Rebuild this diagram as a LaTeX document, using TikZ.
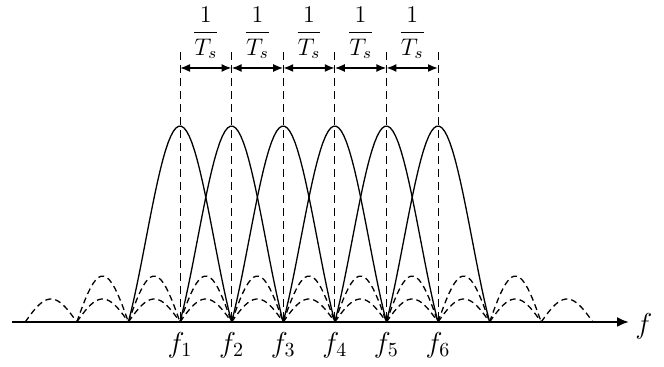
\documentclass[tikz,border=0pt]{standalone}
\usepackage{tikz}
\usetikzlibrary{arrows.meta, positioning}
\usepackage{amsmath, amssymb}
\tikzset{
  lobe/.style = {draw, line width=0.65pt},
  side/.style = {draw, line width=0.65pt, dash pattern=on 3pt off 2pt},
  guide/.style = {draw, line width=0.5pt, dash pattern=on 4pt off 2.5pt},
  spacing/.style = {draw, line width=0.8pt, {Latex[length=5pt, width=4pt]}-{Latex[length=5pt, width=4pt]}},
  axis/.style = {draw, line width=1.1pt, -{Latex[length=6pt, width=5pt]}},
  freq/.style = {font=\Large, inner sep=1pt},
  declare function = {sinc(\u) = sin(180*\u)/(pi*\u);},
}
\newcommand{\df}{51.6}
\newcommand{\hgt}{196}
% main lobe of one subcarrier
\newcommand{\carrier}[1]{%
  \draw[lobe] plot[domain=-1:1, samples=40] ({#1+\df*\x}, {\hgt*sinc(\x)});
}
% side lobes in one gap: first and second
\newcommand{\sidelobes}[1]{%
  \draw[side] plot[domain=0:1, samples=20] ({#1+\df*\x}, {46*sin(180*\x)});
  \draw[side] plot[domain=0:1, samples=20] ({#1+\df*\x}, {23*sin(180*\x)});
}
\newcommand{\smalllobe}[1]{%
  \draw[side] plot[domain=0:1, samples=20] ({#1+\df*\x}, {23*sin(180*\x)});
}

\begin{document}
\begin{tikzpicture}[x=0.5pt, y=0.5pt]

  \useasboundingbox (0,-45) rectangle (664,322);

  \smalllobe{25.2}
  \sidelobes{76.8}
  \sidelobes{128.4}
  \sidelobes{180}
  \sidelobes{231.6}
  \sidelobes{283.2}
  \sidelobes{334.8}
  \sidelobes{386.4}
  \sidelobes{438}
  \sidelobes{489.6}
  \smalllobe{541.2}

  \carrier{180}
  \carrier{231.6}
  \carrier{283.2}
  \carrier{334.8}
  \carrier{386.4}
  \carrier{438}

  \coordinate (s) at (12,0);
  \coordinate (e) at (629,0);
  \draw [axis] (s) -- (e);
  \node (f) [freq, right=2pt of e, yshift=-2pt] {$f$};

  \coordinate (b1) at (180,0);
  \coordinate (b2) at (231.6,0);
  \coordinate (b3) at (283.2,0);
  \coordinate (b4) at (334.8,0);
  \coordinate (b5) at (386.4,0);
  \coordinate (b6) at (438,0);

  \coordinate (t1) at (180,270);
  \coordinate (t2) at (231.6,270);
  \coordinate (t3) at (283.2,270);
  \coordinate (t4) at (334.8,270);
  \coordinate (t5) at (386.4,270);
  \coordinate (t6) at (438,270);

  \coordinate (a1) at (180,254);
  \coordinate (a2) at (231.6,254);
  \coordinate (a3) at (283.2,254);
  \coordinate (a4) at (334.8,254);
  \coordinate (a5) at (386.4,254);
  \coordinate (a6) at (438,254);

  \draw [guide] (t1) -- (b1);
  \draw [guide] (t2) -- (b2);
  \draw [guide] (t3) -- (b3);
  \draw [guide] (t4) -- (b4);
  \draw [guide] (t5) -- (b5);
  \draw [guide] (t6) -- (b6);

  \draw [spacing] (a1) -- (a2);
  \draw [spacing] (a2) -- (a3);
  \draw [spacing] (a3) -- (a4);
  \draw [spacing] (a4) -- (a5);
  \draw [spacing] (a5) -- (a6);

  \node (d1) [font=\large] at (205.8,289) {$\dfrac{1}{T_s}$};
  \node (d2) [font=\large] at (257.4,289) {$\dfrac{1}{T_s}$};
  \node (d3) [font=\large] at (309,289) {$\dfrac{1}{T_s}$};
  \node (d4) [font=\large] at (360.6,289) {$\dfrac{1}{T_s}$};
  \node (d5) [font=\large] at (412.2,289) {$\dfrac{1}{T_s}$};

  \node (f1) [freq, below=4pt of b1] {$f_1$};
  \node (f2) [freq, below=4pt of b2] {$f_2$};
  \node (f3) [freq, below=4pt of b3] {$f_3$};
  \node (f4) [freq, below=4pt of b4] {$f_4$};
  \node (f5) [freq, below=4pt of b5] {$f_5$};
  \node (f6) [freq, below=4pt of b6] {$f_6$};

\end{tikzpicture}
\end{document}
